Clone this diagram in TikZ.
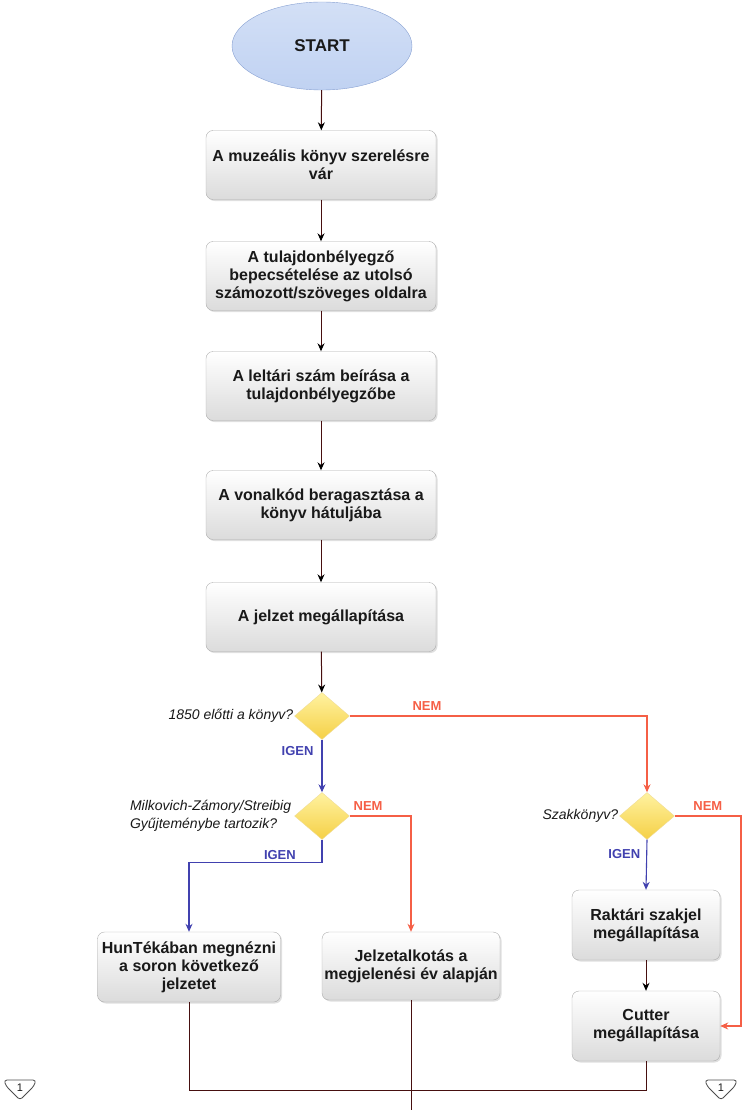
\documentclass[tikz,border=0pt]{standalone}
\usepackage{fontspec}
\setmainfont{Liberation Sans}
\usetikzlibrary{shapes.geometric,arrows.meta,positioning,shadows}
\definecolor{txtclr}{RGB}{25,25,25}
\definecolor{lineclr}{RGB}{70,15,15}
\definecolor{yesclr}{RGB}{65,65,175}
\definecolor{noclr}{RGB}{245,95,70}
\definecolor{decborder}{RGB}{240,220,150}
\definecolor{decfillA}{RGB}{255,242,160}
\definecolor{decfillB}{RGB}{245,208,70}
\definecolor{startfill}{RGB}{192,210,242}
\definecolor{startborder}{RGB}{135,160,210}
\begin{document}
\begin{tikzpicture}[x=1pt,y=-1pt,
	box/.style={rectangle,rounded corners=7pt,draw=gray!65,top color=white,bottom color=gray!28,
		minimum width=230pt,minimum height=69pt,align=center,inner sep=1pt,text=txtclr,
		font=\fontsize{16}{18}\selectfont\bfseries,
		drop shadow={opacity=0.25,shadow xshift=1.5pt,shadow yshift=-1.5pt}},
	smallbox/.style={box,minimum width=148pt,minimum height=70pt},
	decision/.style={diamond,draw=decborder,top color=decfillA,bottom color=decfillB,
		minimum width=55pt,minimum height=47pt,inner sep=0pt},
	question/.style={font=\fontsize{14}{18}\selectfont\itshape,text=txtclr,inner sep=1pt,align=left},
	flow/.style={draw=lineclr,line width=1pt,-{Stealth[color=black,length=8pt,width=7pt]}},
	plain/.style={draw=lineclr,line width=1pt},
	yesflow/.style={draw=yesclr,line width=1.1pt,-{Stealth[color=yesclr,length=8pt,width=7pt]}},
	noflow/.style={draw=noclr,line width=1.1pt,-{Stealth[color=noclr,length=8pt,width=7pt]}},
	yes/.style={font=\fontsize{13}{15}\selectfont\bfseries,text=yesclr,inner sep=2pt},
	no/.style={font=\fontsize{13}{15}\selectfont\bfseries,text=noclr,inner sep=2pt},
	offpage/.style={draw=black!70,fill=white,line width=0.8pt,rounded corners=3pt}]
\useasboundingbox (0,0) rectangle (751,1110);

% main column
\node[ellipse,draw=startborder,top color=startfill!70,bottom color=startfill,
	minimum width=180pt,minimum height=88pt,font=\fontsize{17}{20}\selectfont\bfseries,text=txtclr] (start) at (322,46) {START};
\node[box] (b1) at (321,165) {A muzeális könyv szerelésre\\vár};
\node[box] (b2) at (321,276) {A tulajdonbélyegző\\bepecsételése az utolsó\\számozott/szöveges oldalra};
\node[box] (b3) at (321,386) {A leltári szám beírása a\\tulajdonbélyegzőbe};
\node[box] (b4) at (321,505) {A vonalkód beragasztása a\\könyv hátuljába};
\node[box] (b5) at (321,617) {A jelzet megállapítása};

% decisions
\node[decision] (d1) at (322,716) {};
\node[decision] (d2) at (322,816) {};
\node[decision] (d3) at (647,816) {};
\node[question,anchor=east] (q1) at (d1.west) {1850 előtti a könyv?};
\node[question,anchor=east] (q2) at ([xshift=-2pt]d2.west) {Milkovich-Zámory/Streibig\\Gyűjteménybe tartozik?};
\node[question,anchor=east] (q3) at (d3.west) {Szakkönyv?};

% lower boxes
\node[box,minimum width=183pt,minimum height=70pt] (b6) at (189,967) {HunTékában megnézni\\a soron következő\\jelzetet};
\node[box,minimum width=178pt,minimum height=68pt] (b7) at (411,966) {Jelzetalkotás a\\megjelenési év alapján};
\node[smallbox] (b8) at (646,925) {Raktári szakjel\\megállapítása};
\node[smallbox] (b9) at (646,1026) {Cutter\\megállapítása};

% connectors
\draw[flow] (start) -- (b1);
\draw[flow] (b1) -- (b2);
\draw[flow] (b2) -- (b3);
\draw[flow] (b3) -- (b4);
\draw[flow] (b4) -- (b5);
\draw[flow] (b5) -- (d1);
\draw[flow] (b8) -- (b9);

\draw[yesflow] (d1.south) -- (d2.north) node[yes,pos=0.22,left=6pt] (y1) {IGEN};
\draw[noflow] (d1.east) -| (d3.north) node[no,pos=0.13,above=3pt] (n1) {NEM};

\draw[yesflow] (d2.south) -- ++(0,23) coordinate (c2) -| (b6.north);
\node[yes,above left=1pt and 24pt] (y2) at (c2) {IGEN};
\draw[noflow] (d2.east) -| (b7.north) node[no,pos=0.15,above=3pt] (n2) {NEM};

\draw[yesflow] (d3.south) -- (b8.north) node[yes,pos=0.28,left=4pt] (y3) {IGEN};
\coordinate (c3) at (741,816);
\draw[noflow] (d3.east) -- (c3) node[no,midway,above=3pt] (n3) {NEM} |- (b9.east);

% bottom lines
\coordinate (merge) at (411,1090);
\coordinate (exit) at (411,1110);
\draw[plain] (b6.south) |- (merge) -| (b9.south);
\draw[plain] (b7.south) -- (exit);

% off-page connectors
\foreach \name/\px in {offL/20,offR/721} {
	\draw[offpage] (\px-16,1080) -- (\px+16,1080) -- (\px+14,1086) -- (\px,1100) -- (\px-14,1086) -- cycle;
	\node[font=\fontsize{11}{13}\selectfont,text=txtclr,inner sep=0pt] (\name) at (\px,1088) {1};
}
\end{tikzpicture}
\end{document}
